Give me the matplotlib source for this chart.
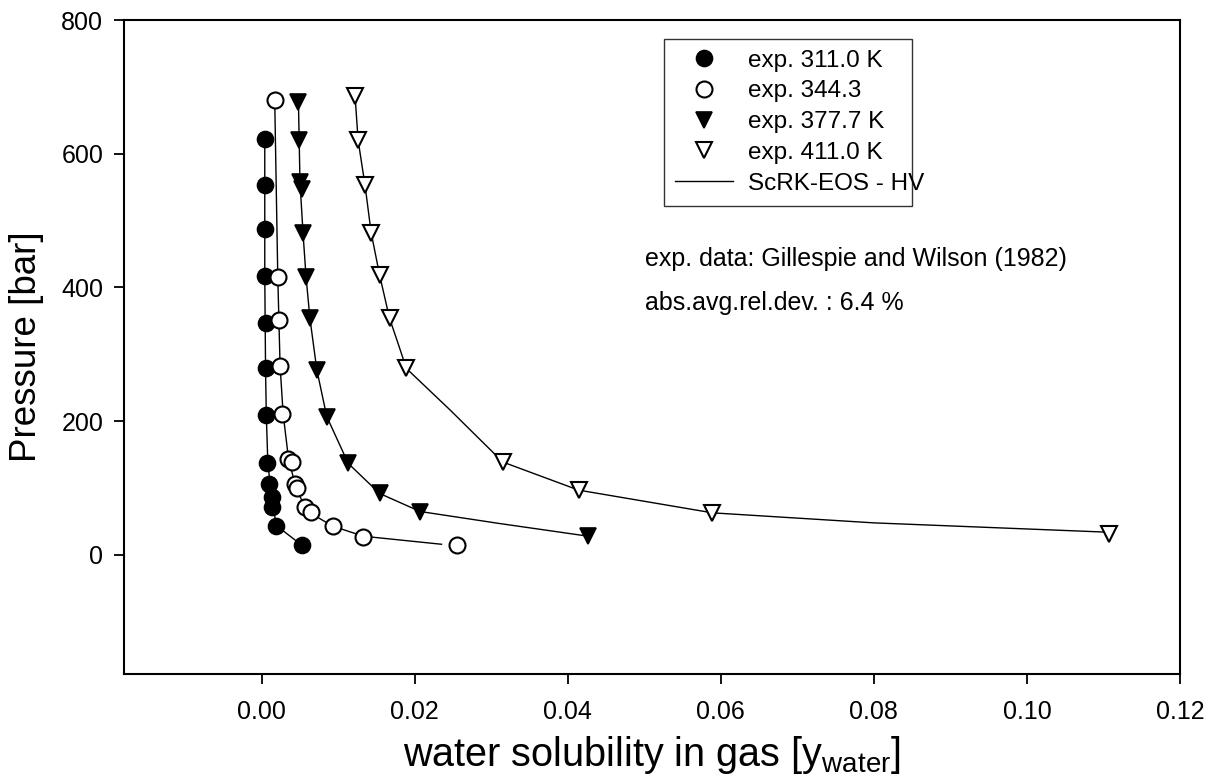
import matplotlib
matplotlib.use('Agg')
import matplotlib.pyplot as plt

plt.rcParams['font.family'] = ['Liberation Sans', 'DejaVu Sans']

x_311 = [0.0004, 0.0004, 0.0004, 0.0004, 0.0005, 0.0005, 0.0006, 0.0007, 0.0010, 0.0014, 0.0014, 0.0019, 0.0052]
p_311 = [622, 553, 487, 417, 347, 280, 209, 138, 106, 87, 72, 44, 15]

x_344 = [0.0017, 0.0021, 0.0023, 0.0024, 0.0027, 0.0034, 0.0040, 0.0043, 0.0046, 0.0056, 0.0064, 0.0093, 0.0133, 0.0255]
p_344 = [680, 416, 351, 283, 211, 144, 139, 106, 100, 72, 64, 44, 27, 15]

x_377 = [0.0048, 0.0049, 0.0050, 0.0053, 0.0054, 0.0058, 0.0063, 0.0072, 0.0085, 0.0113, 0.0154, 0.0207, 0.0427]
p_377 = [678, 620, 558, 547, 481, 415, 354, 277, 207, 137, 92, 65, 28]

x_411 = [0.0122, 0.0126, 0.0135, 0.0143, 0.0154, 0.0167, 0.0189, 0.0315, 0.0414, 0.0589, 0.1107]
p_411 = [686, 620, 553, 482, 419, 354, 279, 139, 97, 63, 32]

# ScRK-EOS - HV model curves
mx_311 = [0.0004, 0.0004, 0.0005, 0.0006, 0.0008, 0.0011, 0.0014, 0.0019, 0.0052]
mp_311 = [622, 417, 280, 209, 138, 106, 80, 44, 15]

mx_344 = [0.0017, 0.0021, 0.0024, 0.0028, 0.0035, 0.0044, 0.0056, 0.0064, 0.0075, 0.0093, 0.0133, 0.0235]
mp_344 = [680, 416, 283, 211, 144, 104, 72, 64, 55, 43, 28, 16]

mx_377 = [0.0048, 0.0050, 0.0054, 0.0058, 0.0063, 0.0072, 0.0085, 0.0113, 0.0154, 0.0207, 0.0311, 0.0427]
mp_377 = [678, 558, 481, 415, 354, 277, 207, 137, 92, 65, 47, 28]

mx_411 = [0.0122, 0.0126, 0.0135, 0.0143, 0.0154, 0.0167, 0.0178, 0.0189, 0.0246, 0.0315, 0.0414, 0.0589, 0.0800, 0.1107]
mp_411 = [686, 620, 553, 482, 419, 354, 317, 279, 217, 139, 97, 63, 48, 34]

fig = plt.figure(figsize=(12.13, 7.79), dpi=100)
ax = fig.add_axes([0.1022, 0.1348, 0.8706, 0.8395])

lw = 1.0
ax.plot(mx_311, mp_311, color='black', lw=lw, zorder=1)
ax.plot(mx_344, mp_344, color='black', lw=lw, zorder=1)
ax.plot(mx_377, mp_377, color='black', lw=lw, zorder=1)
ax.plot(mx_411, mp_411, color='black', lw=lw, zorder=1, label='ScRK-EOS - HV')

ms = 11.5
ax.plot(x_311, p_311, 'o', ms=ms, mfc='black', mec='black', mew=1.2, zorder=3, label='exp. 311.0 K')
ax.plot(x_344, p_344, 'o', ms=ms, mfc='white', mec='black', mew=1.5, zorder=3, label='exp. 344.3')
ax.plot(x_377, p_377, 'v', ms=ms + 0.5, mfc='black', mec='black', mew=1.2, zorder=3, label='exp. 377.7 K')
ax.plot(x_411, p_411, 'v', ms=ms + 0.5, mfc='white', mec='black', mew=1.5, zorder=3, label='exp. 411.0 K')

ax.set_xlim(-0.018, 0.12)
ax.set_ylim(-178, 800)
ax.set_xticks([0.00, 0.02, 0.04, 0.06, 0.08, 0.10, 0.12])
ax.set_xticklabels(['0.00', '0.02', '0.04', '0.06', '0.08', '0.10', '0.12'])
ax.set_yticks([0, 200, 400, 600, 800])

for s in ax.spines.values():
    s.set_linewidth(1.5)
ax.tick_params(direction='out', length=7, width=1.3, labelsize=18)
ax.tick_params(axis='x', pad=12)
ax.tick_params(axis='y', pad=8)

ax.set_xlabel('water solubility in gas [y$_{\\mathregular{water}}$]', fontsize=28.5, labelpad=7)
ax.set_ylabel('Pressure [bar]', fontsize=26.5, labelpad=12)

handles, labels = ax.get_legend_handles_labels()
order = [1, 2, 3, 4, 0]
leg = ax.legend([handles[i] for i in order], [labels[i] for i in order],
                loc='upper left', bbox_to_anchor=(0.5, 0.69, 0.258, 0.3),
                mode='expand', fontsize=17.5, frameon=True, fancybox=False,
                edgecolor='black', handlelength=2.4, handletextpad=0.6,
                labelspacing=0.36, borderpad=0.45, markerscale=1.0)
leg.get_frame().set_linewidth(1.0)
leg.get_frame().set_facecolor('white')

ax.text(0.4934, 0.634, 'exp. data: Gillespie and Wilson (1982)', transform=ax.transAxes,
        fontsize=18, va='center', ha='left')
ax.text(0.4934, 0.568, 'abs.avg.rel.dev. : 6.4 %', transform=ax.transAxes,
        fontsize=18, va='center', ha='left')

fig.savefig('out.png', dpi=100)
